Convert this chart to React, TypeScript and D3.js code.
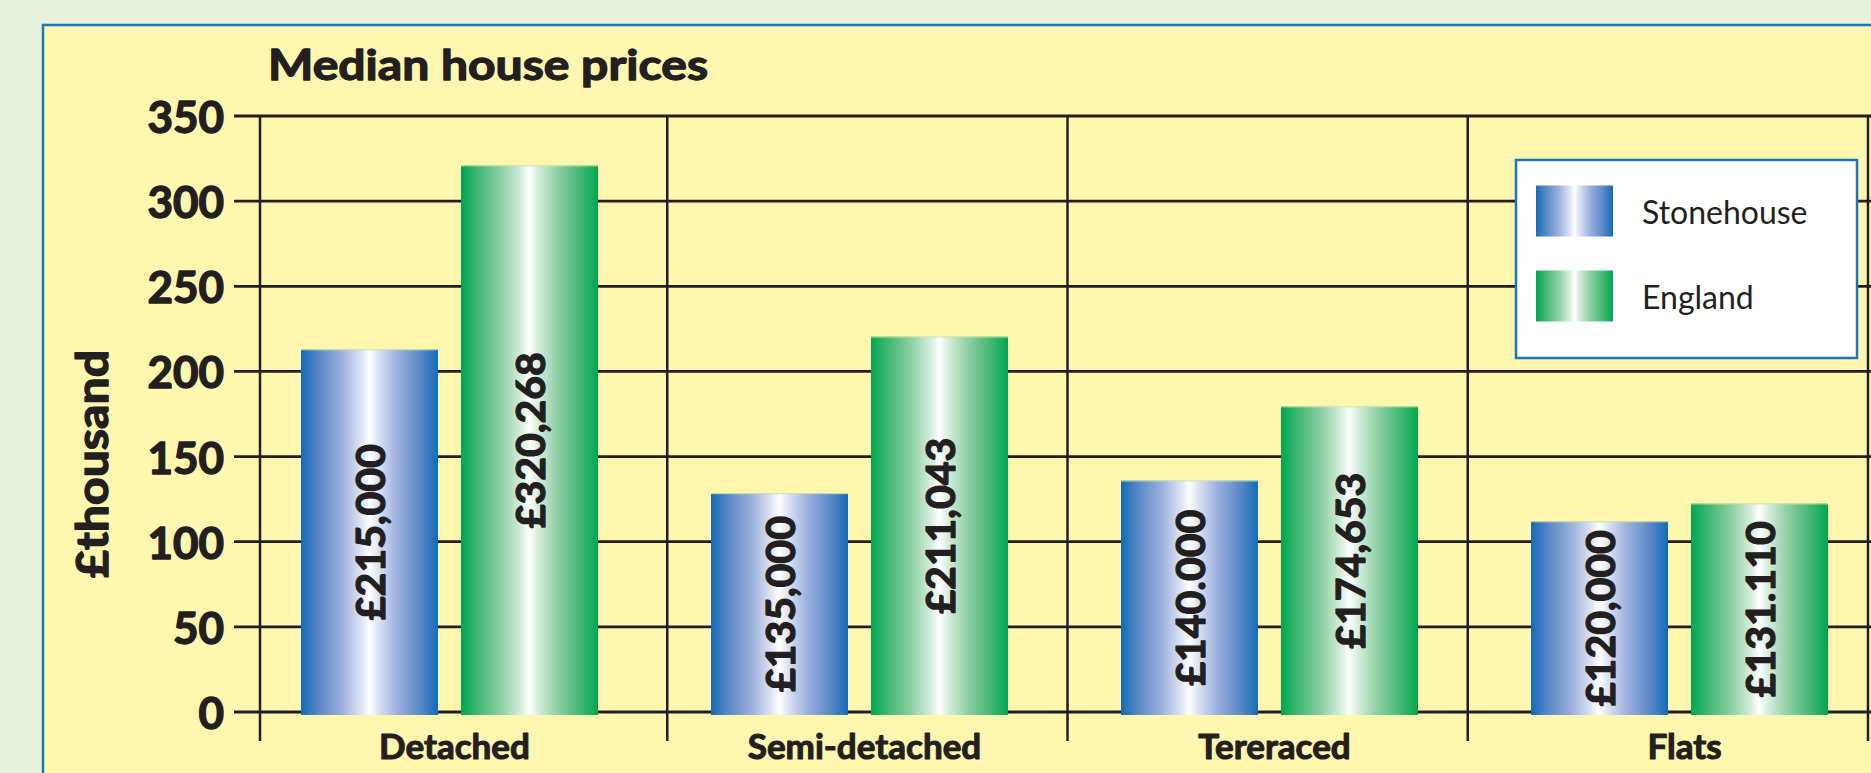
import React from "react";
import * as d3 from "d3";

const categories = ["Detached", "Semi-detached", "Tereraced", "Flats"];
const seriesNames = ["Stonehouse", "England"];
const stonehouseValues = [213, 128.5, 136, 112];
const englandValues = [321, 220.5, 179.5, 122.5];
const stonehouseLabels = ["£215,000", "£135,000", "£140.000", "£120,000"];
const englandLabels = ["£320,268", "£211,043", "£174,653", "£131.110"];
const yTicks = [0, 50, 100, 150, 200, 250, 300, 350];
const title = "Median house prices";
const yTitle = "£thousand";

const W = 1871;
const H = 773;
const FONT = "Lato, 'Open Sans', 'DejaVu Sans', sans-serif";
const INK = "#231f20";

const heavy = (sw: number) => ({
  fontWeight: 700,
  fill: INK,
  stroke: INK,
  strokeWidth: sw,
  strokeLinejoin: "round" as const,
});

export default function App() {
  React.useEffect(() => {
    document.body.style.margin = "0";
  }, []);

  const y = d3.scaleLinear().domain([0, 350]).range([712, 116]);
  const xCat = d3.scaleBand<string>().domain(categories).range([244.5, 1884.5]);
  const xGrid = d3.scaleBand<string>().domain(categories).range([267, 1868]);
  const x1 = d3
    .scaleBand<string>()
    .domain(seriesNames)
    .range([56.5, 353.5])
    .paddingInner(0.144);

  const seriesData = [
    { name: seriesNames[0], values: stonehouseValues, labels: stonehouseLabels, grad: "gBlue" },
    { name: seriesNames[1], values: englandValues, labels: englandLabels, grad: "gGreen" },
  ];

  const axisX = 260;
  const gridLeft = 234;
  const gridRight = W;
  const sepBottom = 741;

  const separators = [
    axisX,
    ...categories.slice(1).map((c) => xGrid(c)!),
    xGrid(categories[3])! + xGrid.bandwidth(),
  ];

  return (
    <svg
      width={W}
      height={H}
      style={{ position: "absolute", left: 0, top: 0, display: "block" }}
      fontFamily={FONT}
    >
      <defs>
        <linearGradient id="gBlue" x1="0" x2="1" y1="0" y2="0">
          <stop offset="0" stopColor="#136bb6" />
          <stop offset="0.12" stopColor="#5586c6" />
          <stop offset="0.3" stopColor="#9db1dd" />
          <stop offset="0.44" stopColor="#dde4f5" />
          <stop offset="0.5" stopColor="#ffffff" />
          <stop offset="0.56" stopColor="#dde4f5" />
          <stop offset="0.7" stopColor="#9db1dd" />
          <stop offset="0.88" stopColor="#5586c6" />
          <stop offset="1" stopColor="#136bb6" />
        </linearGradient>
        <linearGradient id="gGreen" x1="0" x2="1" y1="0" y2="0">
          <stop offset="0" stopColor="#00a651" />
          <stop offset="0.12" stopColor="#3fb771" />
          <stop offset="0.3" stopColor="#8fd1a5" />
          <stop offset="0.44" stopColor="#d7eede" />
          <stop offset="0.5" stopColor="#ffffff" />
          <stop offset="0.56" stopColor="#d7eede" />
          <stop offset="0.7" stopColor="#8fd1a5" />
          <stop offset="0.88" stopColor="#3fb771" />
          <stop offset="1" stopColor="#00a651" />
        </linearGradient>
      </defs>

      <rect x={0} y={0} width={W} height={H} fill="#e8f2dc" />
      <rect x={43} y={25} width={W} height={H} fill="#fff7b0" stroke="#1a75bb" strokeWidth={2.5} />

      <text
        x={268}
        y={80}
        fontSize={42}
        {...heavy(1.3)}
        textLength={440}
        lengthAdjust="spacingAndGlyphs"
      >
        {title}
      </text>

      {/* horizontal grid lines */}
      {yTicks.map((t) => (
        <line
          key={"h" + t}
          x1={gridLeft}
          x2={gridRight}
          y1={y(t)}
          y2={y(t)}
          stroke={INK}
          strokeWidth={2.8}
        />
      ))}

      {/* vertical separators */}
      {separators.map((sx, i) => (
        <line
          key={"v" + i}
          x1={sx}
          x2={sx}
          y1={y(350)}
          y2={sepBottom}
          stroke={INK}
          strokeWidth={2.5}
        />
      ))}

      {/* tick labels */}
      {yTicks.map((t) => (
        <text
          key={"t" + t}
          x={224}
          y={y(t)}
          textAnchor="end"
          dominantBaseline="central"
          fontSize={44}
          {...heavy(1.4)}
        >
          {t}
        </text>
      ))}

      <text
        transform={`translate(108, ${464}) rotate(-90)`}
        textAnchor="middle"
        fontSize={44}
        {...heavy(1.4)}
        textLength={228}
        lengthAdjust="spacingAndGlyphs"
      >
        {yTitle}
      </text>

      {/* bars */}
      {categories.map((c, ci) => (
        <g key={c} transform={`translate(${xCat(c)}, 0)`}>
          {seriesData.map((s) => {
            const bx = x1(s.name)!;
            const bw = x1.bandwidth();
            const top = y(s.values[ci]);
            const bottom = y(0) + 3;
            return (
              <g key={s.name}>
                <rect x={bx} y={top} width={bw} height={bottom - top} fill={`url(#${s.grad})`} />
                <line x1={bx} x2={bx + bw} y1={top + 0.5} y2={top + 0.5} stroke="#cfe3a4" strokeWidth={1} />
                <text
                  transform={`translate(${bx + bw / 2}, ${(top + bottom) / 2}) rotate(-90)`}
                  textAnchor="middle"
                  dominantBaseline="central"
                  fontSize={41}
                  {...heavy(1.3)}
                >
                  {s.labels[ci]}
                </text>
              </g>
            );
          })}
          <text
            x={xCat.bandwidth() / 2 + 5}
            y={759}
            textAnchor="middle"
            fontSize={35}
            {...heavy(1.1)}
          >
            {c}
          </text>
        </g>
      ))}

      {/* legend */}
      <g>
        <rect x={1516} y={160} width={341} height={198} fill="#ffffff" stroke="#1a75bb" strokeWidth={2.5} />
        {seriesData.map((s, i) => (
          <g key={s.name} transform={`translate(1536, ${185.5 + i * 85})`}>
            <rect x={0} y={0} width={77} height={51} fill={`url(#${s.grad})`} />
            <text x={106} y={38} fontSize={32} fill={INK}>
              {s.name}
            </text>
          </g>
        ))}
      </g>
    </svg>
  );
}
